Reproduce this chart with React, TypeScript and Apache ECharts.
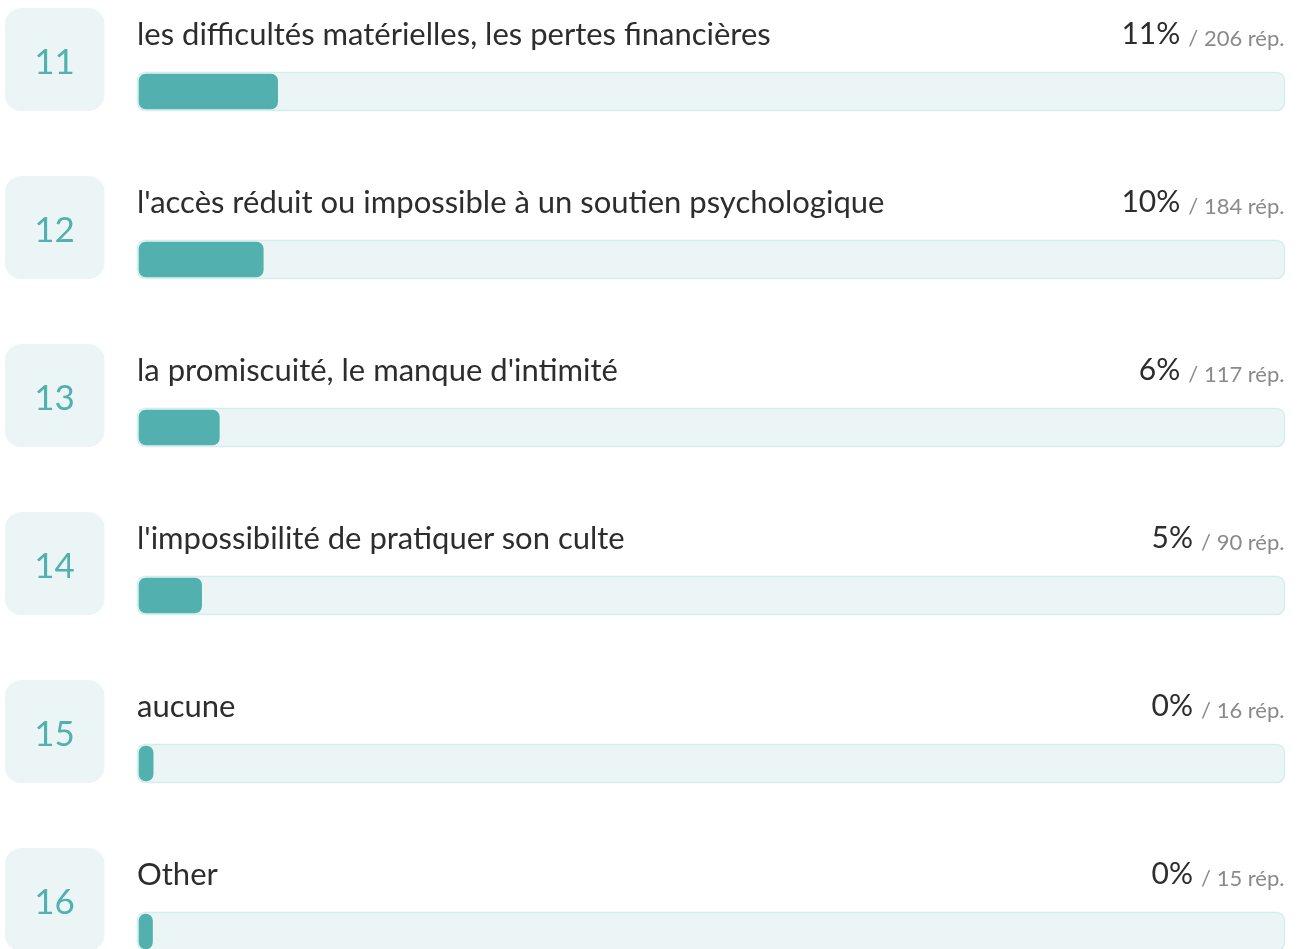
import React, { useEffect, useRef } from "react";
import * as echarts from "echarts";

// ---- data ----
const ranks = ["11", "12", "13", "14", "15", "16"];
const labels = [
  "les difficultés matérielles, les pertes financières",
  "l'accès réduit ou impossible à un soutien psychologique",
  "la promiscuité, le manque d'intimité",
  "l'impossibilité de pratiquer son culte",
  "aucune",
  "Other",
];
const percents = [11, 10, 6, 5, 0, 0];
const counts = [206, 184, 117, 90, 16, 15];
const axisMax = 1742;

const FONT = "Lato";
const TEAL = "#52B1AE";

export default function App() {
  const ref = useRef<HTMLDivElement>(null);
  useEffect(() => {
    const chart = echarts.init(ref.current!, undefined, { renderer: "svg" });
    const ctx = document.createElement("canvas").getContext("2d")!;
    const measure = (t: string, size: number) => {
      ctx.font = `${size}px ${FONT}`;
      return ctx.measureText(t).width;
    };

    const renderItem = (params: any, api: any) => {
      const idx = params.dataIndex;
      const v = api.value(0);
      const c0 = api.coord([0, api.value(1)]);
      const cv = api.coord([v, api.value(1)]);
      const cMax = api.coord([axisMax, api.value(1)]);
      const cy = c0[1];
      const left = c0[0];
      const countText = `/ ${counts[idx]} rép.`;
      const countW = measure(countText, 22);
      const rightEdge = cMax[0];
      return {
        type: "group",
        children: [
          {
            type: "rect",
            shape: { x: 5, y: cy - 83.5, width: 99.5, height: 103, r: 16 },
            style: { fill: "#ECF5F6" },
          },
          {
            type: "text",
            style: {
              x: 54.5,
              y: cy - 32,
              text: ranks[idx],
              fill: TEAL,
              fontSize: 35,
              fontFamily: FONT,
              align: "center",
              verticalAlign: "middle",
            },
          },
          {
            type: "text",
            style: {
              x: left - 6,
              y: cy - 59,
              text: labels[idx],
              fill: "#2d2d2d",
              fontSize: 31,
              fontFamily: FONT,
              align: "left",
              verticalAlign: "middle",
            },
          },
          {
            type: "text",
            style: {
              x: rightEdge - countW - 8,
              y: cy - 60,
              text: `${percents[idx]}%`,
              fill: "#2d2d2d",
              fontSize: 30,
              fontFamily: FONT,
              align: "right",
              verticalAlign: "middle",
            },
          },
          {
            type: "text",
            style: {
              x: rightEdge,
              y: cy - 54.5,
              text: countText,
              fill: "#8a8a8a",
              fontSize: 22,
              fontFamily: FONT,
              align: "right",
              verticalAlign: "middle",
            },
          },
          {
            type: "rect",
            shape: { x: left - 5.5, y: cy - 19, width: rightEdge - left + 5.5, height: 38, r: 8 },
            style: { fill: "#EBF5F6", stroke: "#D5EDED", lineWidth: 1.5 },
          },
          {
            type: "rect",
            shape: { x: left - 4.3, y: cy - 17.8, width: cv[0] - left + 4.3, height: 35.6, r: 7 },
            style: { fill: TEAL },
          },
        ],
      };
    };

    chart.setOption({
      animation: false,
      grid: { left: 143, right: 13.5, top: 7.5, height: 1008, outerBoundsMode: "none", containLabel: false },
      xAxis: { type: "value", min: 0, max: axisMax, show: false },
      yAxis: { type: "category", data: ranks, inverse: true, show: false },
      series: [
        {
          type: "custom",
          renderItem,
          data: counts.map((c, i) => [c, i]),
          encode: { x: 0, y: 1 },
          clip: false,
        },
      ],
    });
    return () => chart.dispose();
  }, []);
  return <div ref={ref} style={{ position: "fixed", left: 0, top: 0, width: 1298, height: 949 }} />;
}
